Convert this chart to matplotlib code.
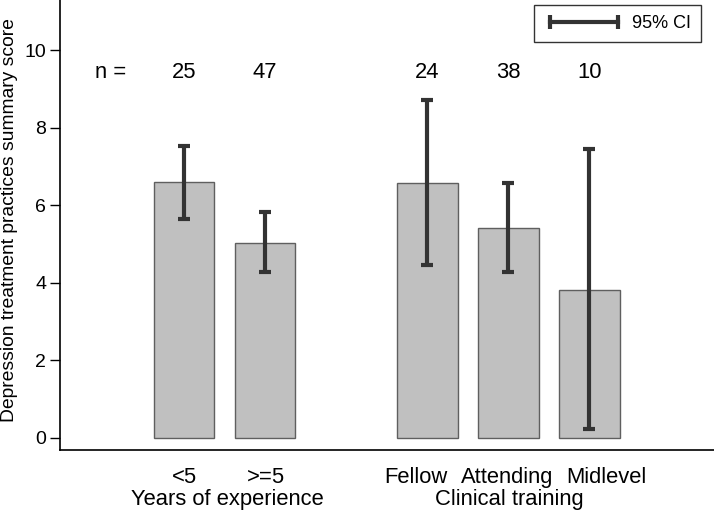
import matplotlib
matplotlib.use("Agg")
import matplotlib.pyplot as plt
from matplotlib.lines import Line2D
import numpy as np

plt.rcParams['font.family'] = ['Liberation Sans', 'DejaVu Sans']

categories = ["<5", ">=5", "Fellow", "Attending", "Midlevel"]
positions = [1, 2, 4, 5, 6]
label_positions = [1.01, 2.01, 3.86, 4.99, 6.21]
means = [6.59, 5.03, 6.58, 5.42, 3.81]
ci_low = [5.64, 4.27, 4.46, 4.27, 0.22]
ci_high = [7.53, 5.83, 8.71, 6.57, 7.45]
n_values = [25, 47, 24, 38, 10]
groups = ["Years of experience", "Clinical training"]
group_centers = [1.53, 5.01]

fig = plt.figure(figsize=(7.14, 5.18), dpi=100)
ax = fig.add_axes([60/714, 68/518, 654/714, 450/518])

means_a = np.array(means)
yerr = np.vstack([means_a - np.array(ci_low), np.array(ci_high) - means_a])
ax.bar(positions, means, width=0.75, color='#c0c0c0', edgecolor='#5f5f5f', linewidth=1, zorder=2)
ax.errorbar(positions, means, yerr=yerr, fmt='none', ecolor='#333333', elinewidth=3.0,
            capsize=4.5, capthick=3, zorder=3)

for p, n in zip(positions, n_values):
    ax.text(p, 9.28, str(n), ha='center', va='baseline', fontsize=15.8)
ax.text(0.09, 9.28, "n =", ha='center', va='baseline', fontsize=15.8)

for p, c in zip(label_positions, categories):
    ax.text(p, -1.16, c, ha='center', va='baseline', fontsize=15.8, clip_on=False)
for gc, g in zip(group_centers, groups):
    ax.text(gc, -1.73, g, ha='center', va='baseline', fontsize=15.8, clip_on=False)

ax.set_xlim(-0.53, 7.54)
ax.set_ylim(-0.31, 11.29)
ax.set_yticks([0, 2, 4, 6, 8, 10])
ax.tick_params(axis='y', labelsize=14, length=7, width=1, pad=3)
ax.set_xticks([])

ax.set_ylabel("Depression treatment practices summary score", fontsize=13.9)
ax.yaxis.set_label_coords(-0.064, 0.511)
ax.spines['top'].set_visible(False)
ax.spines['right'].set_visible(False)
ax.spines['left'].set_linewidth(1.2)
ax.spines['bottom'].set_linewidth(1.2)

h = Line2D([], [], color='#333333', lw=3.0, marker='|', ms=10, mew=3)
leg = ax.legend([h], ["95% CI"], loc='upper right', numpoints=2, handlelength=4.4,
                fontsize=13, frameon=True, fancybox=False, edgecolor='black',
                borderaxespad=0.3, borderpad=0.55, handletextpad=0.45,
                bbox_to_anchor=(0.988, 1.0))
leg.get_frame().set_linewidth(1)

fig.savefig("out.png", dpi=100)
